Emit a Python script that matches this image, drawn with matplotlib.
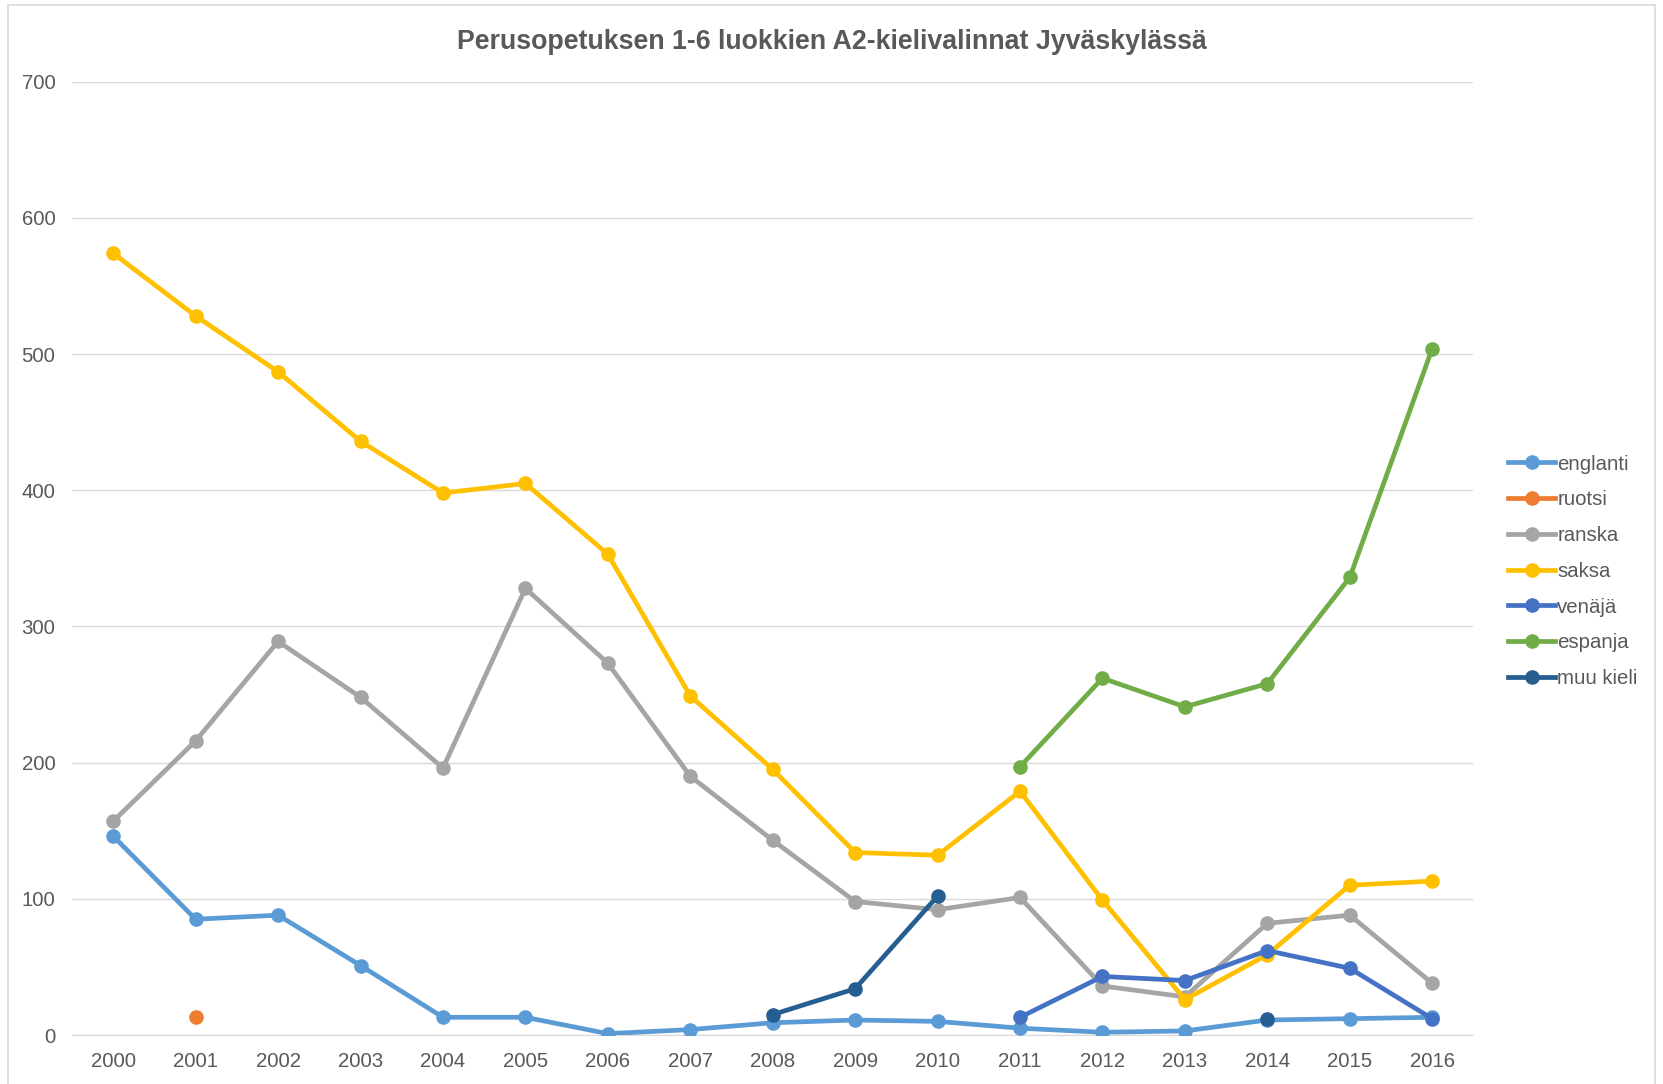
import numpy as np
import matplotlib.pyplot as plt
from matplotlib.patches import Rectangle

plt.rcParams['font.family'] = ['Liberation Sans', 'DejaVu Sans']

years = [str(y) for y in range(2000, 2017)]
nan = np.nan

englanti = [146, 85, 88, 51, 13, 13, 1, 4, 9, 11, 10, 5, 2, 3, 11, 12, 13]
ruotsi = [nan, 13] + [nan] * 15
ranska = [157, 216, 289, 248, 196, 328, 273, 190, 143, 98, 92, 101, 36, 28, 82, 88, 38]
saksa = [574, 528, 487, 436, 398, 405, 353, 249, 195, 134, 132, 179, 99, 26, 59, 110, 113]
venaja = [nan] * 11 + [13, 43, 40, 62, 49, 12]
espanja = [nan] * 11 + [197, 262, 241, 258, 336, 504]
muu_kieli = [nan] * 8 + [15, 34, 102, nan, nan, nan, 12, nan, nan]

series = [
    ('englanti', englanti, '#5B9BD5'),
    ('ruotsi', ruotsi, '#ED7D31'),
    ('ranska', ranska, '#A5A5A5'),
    ('saksa', saksa, '#FFC000'),
    ('venäjä', venaja, '#4472C4'),
    ('espanja', espanja, '#70AD47'),
    ('muu kieli', muu_kieli, '#255E91'),
]

fig = plt.figure(figsize=(16.63, 10.84), dpi=100)
ax = fig.add_axes([0.0433, 0.0452, 0.8427, 0.8794])

x = np.arange(len(years))
for i, (name, vals, color) in enumerate(series):
    ax.plot(x, vals, color=color, lw=3.4, marker='o', markersize=9.5,
            label=name, zorder=3 + i)

ax.set_xlim(-0.5, len(years) - 0.5)
ax.set_ylim(0, 700)
ax.set_yticks(range(0, 701, 100))
ax.set_xticks(x)
ax.set_xticklabels(years)
ax.grid(axis='y', color='#D9D9D9', lw=1.0, zorder=0)
for s in ['top', 'right', 'left']:
    ax.spines[s].set_visible(False)
ax.spines['bottom'].set_color('#D9D9D9')
ax.tick_params(length=0, labelsize=14.7, colors='#595959', pad=12)
ax.tick_params(axis='y', pad=12)
ax.set_axisbelow(True)

fig.text(0.5, 0.961, 'Perusopetuksen 1-6 luokkien A2-kielivalinnat Jyväskylässä',
         ha='center', va='center', fontsize=19.3, fontweight='bold', color='#595959')

leg = fig.legend(loc='center left', bbox_to_anchor=(0.902, 0.473), frameon=False,
                 fontsize=14.7, handlelength=2.3, handletextpad=0.1, labelspacing=0.82,
                 borderaxespad=0)
for t in leg.get_texts():
    t.set_color('#595959')

fig.patches.append(Rectangle((0.005, -0.01), 0.99, 1.005, transform=fig.transFigure,
                             fill=False, edgecolor='#D9D9D9', lw=1.2))

fig.savefig('out.png', dpi=100)
